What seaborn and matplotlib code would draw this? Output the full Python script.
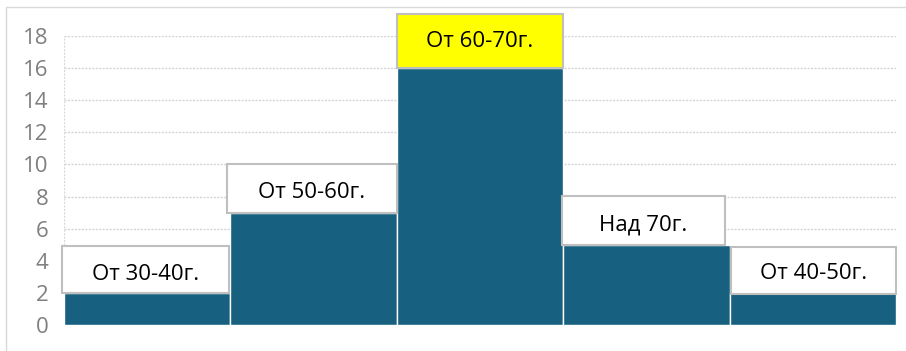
import matplotlib
matplotlib.use("Agg")
import matplotlib.pyplot as plt
from matplotlib.patches import Rectangle
import seaborn as sns
import pandas as pd

# Age groups and their counts
groups = ["От 30-40г.", "От 50-60г.", "От 60-70г.", "Над 70г.", "От 40-50г."]
counts = [2, 7, 16, 5, 2]

df = pd.DataFrame({"group": groups, "count": counts})

sns.set_theme(style="white")
plt.rcParams["font.family"] = ["Open Sans", "DejaVu Sans"]

W, H = 906, 351
fig = plt.figure(figsize=(W / 100, H / 100), dpi=100)
ax = fig.add_axes([64 / W, 26 / H, (896 - 64) / W, (325 - 36) / H])

bar_color = "#17607f"
sns.barplot(data=df, x="group", y="count", color=bar_color, width=1.0,
            edgecolor="white", linewidth=1.0, saturation=1, ax=ax)

ax.set_ylim(0, 18)
ax.set_xlim(-0.5, len(groups) - 0.5)
ax.set_yticks(range(0, 19, 2))
ax.set_xticks([])
ax.set_xlabel("")
ax.set_ylabel("")
ax.tick_params(axis="y", labelsize=16, colors="#7f7f7f", pad=11, length=0)

for y in range(0, 19, 2):
    ax.axhline(y, color="#d4d4d4", lw=1.0, ls=(0, (1.5, 1)), zorder=0)
for s in ax.spines.values():
    s.set_visible(False)
ax.axvline(-0.5, color="#d9d9d9", lw=1.0, ls=(0, (1.5, 1)), zorder=0)

# Label boxes sitting on the bar tops
box_heights = [2.9, 3.0, 3.4, 3.05, 2.95]
box_x = [(-0.51, 0.49), (-0.52, 0.50), (-0.50, 0.50), (-0.51, 0.47), (-0.49, 0.50)]
box_faces = ["white", "white", "#ffff00", "white", "white"]
text_frac = [0.4, 0.42, 0.48, 0.41, 0.44]
for i, (lab, val) in enumerate(zip(groups, counts)):
    x0, x1 = box_x[i]
    bottom = val - 0.1 if i == 4 else val
    rect = Rectangle((i + x0, bottom), x1 - x0, box_heights[i],
                     facecolor=box_faces[i], edgecolor="#bfbfbf", lw=1.5,
                     clip_on=False, zorder=5)
    ax.add_patch(rect)
    ax.text(i + (x0 + x1) / 2, bottom + box_heights[i] * text_frac[i], lab,
            ha="center", va="center", fontsize=16, color="black",
            zorder=6, clip_on=False)

# Thin outer frame of the chart area
fig.patches.append(Rectangle((6 / W, -0.05), 1.1, (H - 7) / H + 0.05,
                             transform=fig.transFigure, fill=False,
                             edgecolor="#d9d9d9", lw=1.0))

fig.savefig("out.png", dpi=100)
